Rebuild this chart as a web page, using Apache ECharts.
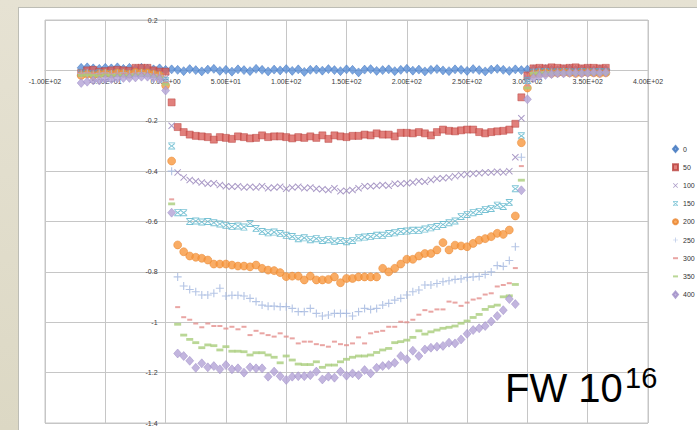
<!DOCTYPE html>
<html>
<head>
<meta charset="utf-8">
<script src="https://cdn.jsdelivr.net/npm/echarts@6/dist/echarts.min.js"></script>
<style>
  html, body { margin:0; padding:0; }
  body { width:697px; height:430px; overflow:hidden; position:relative;
         background: linear-gradient(180deg, #e6e2d3 0%, #dcd8c4 100%); }
  #panel { position:absolute; left:18px; top:7px; width:690px; height:430px;
           background:#ffffff; border:1px solid #bdbdb5; box-sizing:border-box; }
  #chart { position:absolute; left:0; top:0; width:697px; height:430px; }
</style>
</head>
<body>
<div id="panel"></div>
<div id="chart"></div>
<script>
// ---- data ----
const xPos = [
  -70,-65,-60,-55,-50,-45,-40,-35,-30,-25,-20,-15,-10,-5,0,
  5,10,15,20,25,30,35,40,45,50,
  55,60,65,70,75,80,85,90,95,100,
  105,110,115,120,125,130,135,140,145,150,
  155,160,165,170,175,180,185,190,195,200,
  205,210,215,220,225,230,235,240,245,250,
  255,260,265,270,275,280,285,290,295,
  300,305,310,315,320,325,330,335,340,345,350,355,360,365
];
const seriesNames = ['0','50','100','150','200','250','300','350','400'];

const s0 = [
  0.01,0.012,0.008,0.006,0.01,0.008,0.012,0.006,0.01,0.005,0.01,0.007,0.004,0.008,0.002,
  0.004,0.002,-0.003,0.005,0.001,-0.004,0.003,0.006,-0.002,0.002,
  -0.005,0.004,0.001,-0.003,0.006,0.002,-0.004,0.003,0.000,0.005,
  -0.002,0.004,-0.006,0.002,0.003,-0.001,0.005,0.001,-0.003,0.004,
  0.002,-0.008,0.003,0.005,-0.002,0.001,0.004,-0.003,0.002,0.006,
  -0.001,0.003,-0.004,0.002,0.005,0.000,-0.003,0.004,0.002,-0.002,
  0.005,0.001,-0.004,0.003,0.006,0.002,-0.002,0.004,0.001,
  0.003,0.004,0.002,0.005,0.003,0.001,0.004,0.006,0.002,0.003,0.005,0.001,0.004,0.003
];
const s50 = [
  -0.01,0.0,0.002,-0.005,-0.003,0.0,0.002,0.0,-0.002,0.01,0.01,0.01,0.0,-0.005,-0.005,
  -0.127,-0.225,-0.245,-0.255,-0.26,-0.262,-0.265,-0.275,-0.265,-0.268,
  -0.272,-0.262,-0.265,-0.27,-0.268,-0.258,-0.265,-0.262,-0.262,-0.265,
  -0.27,-0.265,-0.268,-0.262,-0.268,-0.258,-0.272,-0.258,-0.262,-0.265,
  -0.26,-0.26,-0.255,-0.258,-0.25,-0.255,-0.255,-0.262,-0.248,-0.248,
  -0.25,-0.245,-0.25,-0.258,-0.245,-0.235,-0.24,-0.242,-0.238,-0.235,
  -0.235,-0.245,-0.25,-0.245,-0.242,-0.24,-0.235,-0.212,-0.107,
  -0.02,0.008,0.01,0.008,0.012,0.01,0.008,0.01,0.012,0.008,0.01,0.01,0.008,0.01
];
const s100 = [
  -0.015,-0.012,-0.01,-0.015,-0.012,-0.01,-0.012,-0.015,-0.01,-0.012,-0.01,-0.012,-0.015,-0.018,-0.03,
  -0.22,-0.405,-0.425,-0.435,-0.44,-0.445,-0.45,-0.448,-0.455,-0.46,
  -0.462,-0.46,-0.465,-0.462,-0.465,-0.46,-0.468,-0.465,-0.462,-0.47,
  -0.465,-0.462,-0.468,-0.465,-0.47,-0.472,-0.475,-0.468,-0.48,-0.478,
  -0.475,-0.468,-0.46,-0.46,-0.458,-0.455,-0.458,-0.45,-0.45,-0.448,
  -0.445,-0.44,-0.442,-0.435,-0.43,-0.428,-0.425,-0.42,-0.415,-0.412,
  -0.41,-0.408,-0.405,-0.405,-0.402,-0.405,-0.40,-0.345,-0.19,
  -0.03,-0.006,-0.005,-0.004,-0.006,-0.005,-0.004,-0.005,-0.006,-0.004,-0.005,-0.005,-0.004,-0.005
];
const s150 = [
  -0.01,-0.012,-0.015,-0.01,-0.012,-0.014,-0.01,-0.012,-0.015,-0.01,-0.012,-0.01,-0.015,-0.02,-0.04,
  -0.30,-0.565,-0.565,-0.60,-0.598,-0.602,-0.60,-0.605,-0.61,-0.615,
  -0.62,-0.618,-0.622,-0.608,-0.628,-0.64,-0.645,-0.642,-0.648,-0.655,
  -0.66,-0.668,-0.665,-0.672,-0.668,-0.675,-0.672,-0.678,-0.675,-0.68,
  -0.675,-0.665,-0.662,-0.66,-0.655,-0.655,-0.648,-0.645,-0.64,-0.638,
  -0.635,-0.635,-0.63,-0.625,-0.62,-0.612,-0.605,-0.598,-0.58,-0.572,
  -0.565,-0.56,-0.552,-0.548,-0.535,-0.54,-0.525,-0.47,-0.26,
  -0.04,-0.007,-0.006,-0.005,-0.007,-0.006,-0.005,-0.006,-0.007,-0.005,-0.006,-0.006,-0.005,-0.006
];
const s200 = [
  -0.02,-0.015,-0.02,-0.015,-0.012,-0.015,-0.01,-0.012,-0.015,-0.008,-0.01,-0.01,-0.015,-0.02,-0.06,
  -0.36,-0.693,-0.72,-0.737,-0.742,-0.746,-0.753,-0.769,-0.769,-0.769,
  -0.773,-0.777,-0.777,-0.78,-0.773,-0.786,-0.793,-0.795,-0.803,-0.819,
  -0.817,-0.817,-0.832,-0.817,-0.832,-0.832,-0.83,-0.82,-0.843,-0.826,
  -0.826,-0.82,-0.82,-0.82,-0.82,-0.786,-0.8,-0.786,-0.769,-0.75,
  -0.75,-0.737,-0.727,-0.727,-0.713,-0.684,-0.713,-0.694,-0.697,-0.70,
  -0.687,-0.674,-0.668,-0.66,-0.647,-0.651,-0.634,-0.578,-0.287,
  -0.07,-0.015,-0.012,-0.01,-0.012,-0.01,-0.008,-0.01,-0.012,-0.01,-0.008,-0.01,-0.012,-0.01
];
const s250 = [
  -0.012,-0.01,-0.015,-0.012,-0.01,-0.014,-0.012,-0.01,-0.015,-0.012,-0.01,-0.014,-0.016,-0.02,-0.045,
  -0.40,-0.82,-0.856,-0.87,-0.879,-0.892,-0.892,-0.885,-0.865,-0.896,
  -0.893,-0.893,-0.896,-0.905,-0.918,-0.932,-0.936,-0.936,-0.938,-0.938,
  -0.945,-0.958,-0.958,-0.945,-0.965,-0.975,-0.971,-0.965,-0.965,-0.965,
  -0.975,-0.958,-0.945,-0.949,-0.945,-0.932,-0.925,-0.912,-0.905,-0.892,
  -0.879,-0.872,-0.852,-0.852,-0.846,-0.839,-0.835,-0.83,-0.828,-0.822,
  -0.82,-0.818,-0.81,-0.80,-0.775,-0.778,-0.755,-0.70,-0.345,
  -0.05,-0.008,-0.007,-0.006,-0.008,-0.007,-0.006,-0.007,-0.008,-0.006,-0.007,-0.007,-0.006,-0.007
];
const s300 = [
  -0.015,-0.012,-0.014,-0.016,-0.012,-0.015,-0.013,-0.014,-0.016,-0.012,-0.014,-0.015,-0.018,-0.022,-0.05,
  -0.512,-0.94,-0.98,-0.99,-1.005,-1.02,-1.005,-1.015,-1.015,-1.025,
  -1.018,-1.028,-1.018,-1.051,-1.034,-1.044,-1.051,-1.057,-1.044,-1.057,
  -1.064,-1.084,-1.077,-1.077,-1.087,-1.091,-1.097,-1.077,-1.087,-1.091,
  -1.084,-1.06,-1.084,-1.044,-1.038,-1.034,-1.018,-1.018,-0.998,-1.0,
  -0.99,-0.97,-0.952,-0.958,-0.949,-0.949,-0.918,-0.922,-0.935,-0.922,
  -0.91,-0.905,-0.89,-0.885,-0.858,-0.852,-0.845,-0.785,-0.38,
  -0.06,-0.01,-0.009,-0.008,-0.01,-0.009,-0.008,-0.009,-0.01,-0.008,-0.009,-0.009,-0.008,-0.009
];
const s350 = [
  -0.02,-0.018,-0.02,-0.022,-0.018,-0.02,-0.019,-0.02,-0.022,-0.018,-0.02,-0.02,-0.024,-0.028,-0.055,
  -0.53,-1.008,-1.051,-1.068,-1.081,-1.101,-1.09,-1.093,-1.11,-1.097,
  -1.115,-1.115,-1.117,-1.13,-1.121,-1.121,-1.13,-1.139,-1.161,-1.134,
  -1.15,-1.166,-1.168,-1.168,-1.157,-1.179,-1.17,-1.17,-1.157,-1.147,
  -1.139,-1.134,-1.134,-1.13,-1.12,-1.11,-1.104,-1.081,-1.077,-1.071,
  -1.06,-1.034,-1.047,-1.038,-1.031,-1.024,-1.02,-1.015,-1.004,-0.995,
  -0.981,-0.969,-0.949,-0.938,-0.932,-0.899,-0.895,-0.85,-0.436,
  -0.07,-0.012,-0.011,-0.01,-0.012,-0.011,-0.01,-0.011,-0.012,-0.01,-0.011,-0.011,-0.01,-0.011
];
const s400 = [
  -0.05,-0.045,-0.04,-0.04,-0.035,-0.035,-0.032,-0.03,-0.03,-0.028,-0.025,-0.025,-0.03,-0.035,-0.08,
  -0.565,-1.124,-1.134,-1.153,-1.181,-1.163,-1.179,-1.174,-1.187,-1.17,
  -1.187,-1.183,-1.2,-1.179,-1.183,-1.183,-1.216,-1.196,-1.214,-1.229,
  -1.216,-1.214,-1.214,-1.21,-1.196,-1.227,-1.216,-1.22,-1.196,-1.212,
  -1.203,-1.21,-1.19,-1.203,-1.181,-1.174,-1.17,-1.161,-1.134,-1.147,
  -1.113,-1.134,-1.108,-1.101,-1.097,-1.094,-1.081,-1.084,-1.068,-1.046,
  -1.031,-1.024,-1.015,-0.997,-0.975,-0.952,-0.908,-0.928,-0.476,
  -0.115,-0.03,-0.022,-0.018,-0.015,-0.012,-0.012,-0.01,-0.01,-0.012,-0.01,-0.008,-0.01,-0.008
];

const xTicks = [-100,-50,0,50,100,150,200,250,300,350,400];
const xTickLabels = ['-1.00E+02','-5.00E+01','0.00E+00','5.00E+01','1.00E+02','1.50E+02','2.00E+02','2.50E+02','3.00E+02','3.50E+02','4.00E+02'];
const yTicks = [-1.4,-1.2,-1,-0.8,-0.6,-0.4,-0.2,0,0.2];
const yTickLabels = ['-1.4','-1.2','-1','-0.8','-0.6','-0.4','-0.2','0','0.2'];

// ---- styles ----
const P_X = 'path://M1,0L5,4L9,0L10,1L6,5L10,9L9,10L5,6L1,10L0,9L4,5L0,1Z';
const P_STAR = 'path://M0,0H10V1.3H0Z M1.3,1.3L5,4.2L8.7,1.3L9.8,2.2L6.1,5L9.8,7.8L8.7,8.7L5,5.8L1.3,8.7L0.2,7.8L3.9,5L0.2,2.2Z M0,8.7H10V10H0Z';
const P_PLUS = 'path://M4.3,0H5.7V4.3H10V5.7H5.7V10H4.3V5.7H0V4.3H4.3Z';
const P_DASH = 'path://M0,0H10V4H0Z';

const styles = [
  {data:s0,   symbol:'diamond', size:[8,9], color:'#5a8fd6', border:'#3f74bd'},
  {data:s50,  symbol:'rect',    size:7,     color:'#d9605b', border:'#b8403c'},
  {data:s100, symbol:P_X,       size:7,     color:'#9380b8', border:null},
  {data:s150, symbol:P_STAR,    size:7,     color:'#56b3c9', border:null},
  {data:s200, symbol:'circle',  size:8,     color:'#f7973f', border:'#e8822a'},
  {data:s250, symbol:P_PLUS,    size:8,     color:'#a2b6de', border:null},
  {data:s300, symbol:P_DASH,    size:5,     color:'#e48f8c', border:null},
  {data:s350, symbol:P_DASH,    size:7,     color:'#a9cd7c', border:null},
  {data:s400, symbol:'diamond', size:[8,9], color:'#b3a3d6', border:'#9d8cc6'}
];

const series = styles.map((st, k) => ({
  name: seriesNames[k],
  type: 'scatter',
  symbol: st.symbol,
  symbolSize: st.size,
  symbolKeepAspect: true,
  data: xPos.map((x, i) => [x, st.data[i]]),
  itemStyle: st.border ? {color: st.color, borderColor: st.border, borderWidth: 0.6} : {color: st.color},
  emphasis: {disabled: true},
  z: 2 + k
}));

const gridColor = '#c6c6c6';
const lblFont = {fontSize:7, color:'#3a3a3a', fontFamily:'Liberation Sans'};

const chart = echarts.init(document.getElementById('chart'), null, {renderer:'svg'});
chart.setOption({
  animation: false,
  backgroundColor: 'transparent',
  grid: {left:45, right:49, top:20, bottom:7, show:true, borderColor:gridColor, borderWidth:1,
         containLabel:false, outerBoundsMode:'none'},
  xAxis: {
    type:'value', position:'bottom', offset:0, min:xTicks[0], max:xTicks[xTicks.length-1], interval:50,
    axisLine:{show:true, onZero:false, lineStyle:{color:gridColor, width:1}},
    axisTick:{show:false},
    splitLine:{show:true, lineStyle:{color:gridColor, width:1}},
    axisLabel:Object.assign({margin:8, showMinLabel:true, showMaxLabel:true, hideOverlap:false,
      formatter: v => { const i = xTicks.findIndex(t => Math.abs(t - v) < 1e-6); return i >= 0 ? xTickLabels[i] : ''; }}, lblFont)
  },
  yAxis: {
    type:'value', position:'left', offset:0, min:yTicks[0], max:yTicks[yTicks.length-1], interval:0.2,
    axisLine:{show:true, onZero:false, lineStyle:{color:gridColor, width:1}},
    axisTick:{show:false},
    splitLine:{show:true, lineStyle:{color:gridColor, width:1}},
    axisLabel:Object.assign({margin:8, showMinLabel:true, showMaxLabel:true, hideOverlap:false,
      formatter: v => { const i = yTicks.findIndex(t => Math.abs(t - v) < 1e-6); return i >= 0 ? yTickLabels[i] : ''; }}, lblFont)
  },
  legend: {
    orient:'vertical', left:672, top:145, padding:0,
    itemWidth:5, itemHeight:6, itemGap:10.2,
    textStyle:{fontSize:7, color:'#333', fontFamily:'Liberation Sans', lineHeight:8},
    data: seriesNames
  },
  graphic: [
    {type:'text', x:505, y:388, z:50, style:{text:'FW 10', fontSize:40, fontFamily:'Liberation Sans', fill:'#000', align:'left', verticalAlign:'middle'}},
    {type:'text', x:625, y:377.5, z:50, style:{text:'16', fontSize:29, fontFamily:'Liberation Sans', fill:'#000', align:'left', verticalAlign:'middle'}}
  ],
  series: series
});

// Place each axis through the other axis's zero, using the library's own scales.
const y0 = chart.convertToPixel({yAxisIndex:0}, 0);
const yBottom = chart.convertToPixel({yAxisIndex:0}, yTicks[0]);
const x0 = chart.convertToPixel({xAxisIndex:0}, 0);
const xLeft = chart.convertToPixel({xAxisIndex:0}, xTicks[0]);
chart.setOption({
  xAxis: {offset: y0 - yBottom},
  yAxis: {offset: xLeft - x0}
});
</script>
</body>
</html>
